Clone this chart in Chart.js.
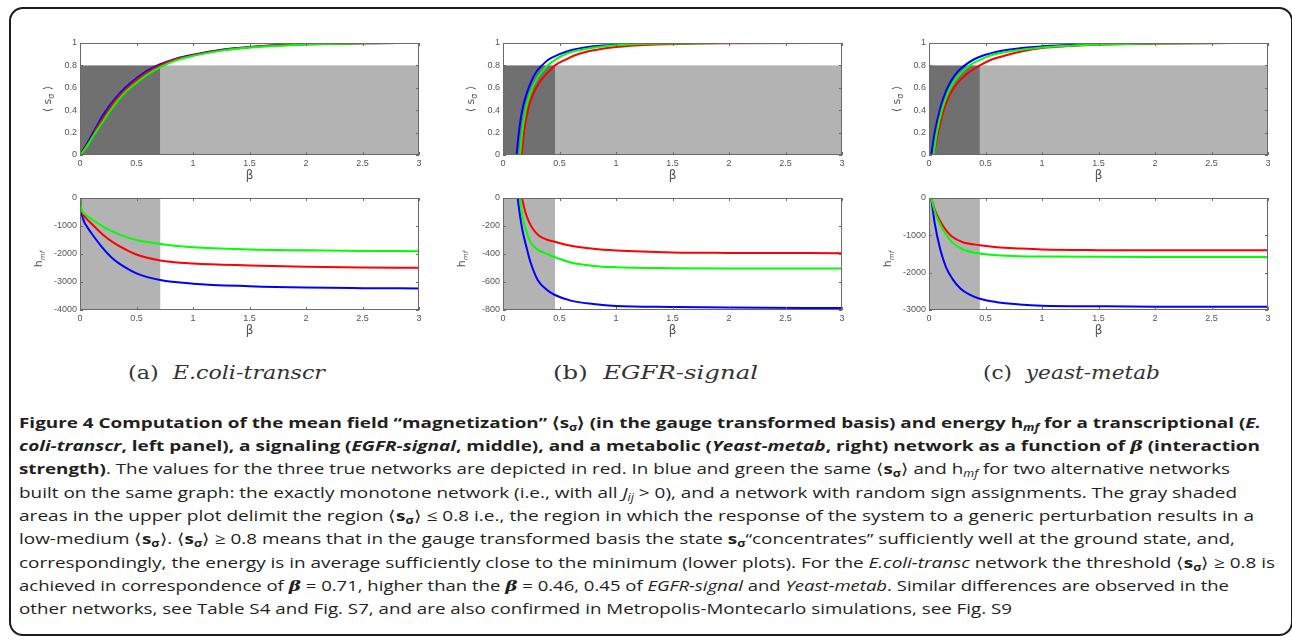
<!DOCTYPE html>
<html>
<head>
<meta charset="utf-8">
<script src="https://cdn.jsdelivr.net/npm/chart.js@4.4.1/dist/chart.umd.min.js"></script>
<style>
body { margin: 0; background: #fff; }
#page { position: relative; width: 1292px; height: 640px; overflow: hidden; background: #fff; font-family: "Open Sans", sans-serif; }
#frame { position: absolute; left: 9px; top: 7px; width: 1280px; height: 625px; border: 2px solid #1c1c1c; border-radius: 14px; }
canvas { position: absolute; }
.sub { position: absolute; top: 360px; font-family: "DejaVu Serif", serif; font-size: 19px; line-height: 24px; color: #333; white-space: nowrap; transform-origin: left center; }
.cap { position: absolute; left: 19px; font-size: 15px; line-height: 23px; color: #231f20; white-space: nowrap; transform-origin: left top; }
.cap sub { font-size: 10px; vertical-align: -3px; line-height: 0; }
.m { font-family: "DejaVu Serif", serif; font-style: italic; font-weight: bold; }
</style>
</head>
<body>
<div id="page">
  <div id="frame"></div>
  <canvas id="aTop"></canvas><canvas id="aBot"></canvas>
  <canvas id="bTop"></canvas><canvas id="bBot"></canvas>
  <canvas id="cTop"></canvas><canvas id="cBot"></canvas>
  <div class="sub" id="sub0"></div>
  <div class="sub" id="sub1"></div>
  <div class="sub" id="sub2"></div>
  <div id="caption"></div>
</div>
<script>
// axes
const betaTicks = [0, 0.5, 1, 1.5, 2, 2.5, 3];
const magTicks = [0, 0.2, 0.4, 0.6, 0.8, 1];
const energyTicksA = [0, -1000, -2000, -3000, -4000];
const energyTicksB = [0, -200, -400, -600, -800];
const energyTicksC = [0, -1000, -2000, -3000];
const shadeLevel = 0.8;
const thresholds = [0.71, 0.46, 0.45];
const panelTags = ["(a)", "(b)", "(c)"];
const panelNames = ["E.coli-transcr", "EGFR-signal", "yeast-metab"];

// (a) E.coli-transcr, magnetization
const aTopBeta = [0, 0.05, 0.1, 0.15, 0.2, 0.3, 0.4, 0.5, 0.6, 0.71, 0.85, 1, 1.25, 1.5, 2, 2.5, 3];
const aTopRed = [0, 0.07, 0.15, 0.24, 0.32, 0.47, 0.58, 0.67, 0.74, 0.80, 0.855, 0.89, 0.935, 0.962, 0.988, 0.997, 1];
const aTopBlue = [0, 0.08, 0.17, 0.26, 0.35, 0.49, 0.60, 0.685, 0.755, 0.81, 0.86, 0.895, 0.94, 0.965, 0.99, 0.998, 1];
const aTopGreen = [0, 0.06, 0.14, 0.22, 0.295, 0.44, 0.56, 0.645, 0.72, 0.785, 0.845, 0.885, 0.932, 0.96, 0.987, 0.997, 1];
// (a) energy
const aBotBeta = [0, 0.01, 0.03, 0.05, 0.1, 0.2, 0.3, 0.4, 0.5, 0.71, 1, 1.5, 2, 2.5, 3];
const aBotRed = [0, -380, -600, -710, -910, -1300, -1600, -1830, -2020, -2230, -2340, -2410, -2455, -2480, -2490];
const aBotBlue = [0, -450, -780, -950, -1250, -1780, -2200, -2480, -2690, -2930, -3060, -3150, -3200, -3220, -3230];
const aBotGreen = [0, -350, -530, -600, -750, -1010, -1220, -1380, -1500, -1640, -1760, -1840, -1870, -1890, -1900];

// (b) EGFR-signal, magnetization
const bTopRedBeta = [0.165, 0.185, 0.22, 0.27, 0.33, 0.4, 0.46, 0.55, 0.65, 0.8, 1, 1.3, 1.7, 2, 3];
const bTopRed = [0, 0.2, 0.4, 0.55, 0.66, 0.74, 0.8, 0.85, 0.895, 0.935, 0.965, 0.985, 0.995, 0.998, 1];
const bTopBlueBeta = [0.12, 0.14, 0.17, 0.21, 0.26, 0.3, 0.345, 0.4, 0.5, 0.6, 0.8, 1, 1.5, 2, 3];
const bTopBlue = [0, 0.2, 0.4, 0.55, 0.68, 0.75, 0.8, 0.85, 0.9, 0.935, 0.97, 0.985, 0.998, 1, 1];
const bTopGreenBeta = [0.15, 0.17, 0.2, 0.24, 0.3, 0.35, 0.395, 0.46, 0.55, 0.7, 0.9, 1.2, 1.5, 2, 3];
const bTopGreen = [0, 0.2, 0.4, 0.55, 0.68, 0.75, 0.8, 0.85, 0.9, 0.94, 0.97, 0.99, 0.996, 1, 1];
// (b) energy
const bBotRedBeta = [0.168, 0.185, 0.2, 0.23, 0.27, 0.32, 0.39, 0.46, 0.6, 0.8, 1, 1.5, 2, 3];
const bBotRed = [0, -60, -107, -170, -227, -270, -298, -313, -341, -363, -375, -389, -392, -394];
const bBotBlueBeta = [0.13, 0.147, 0.171, 0.206, 0.24, 0.307, 0.39, 0.46, 0.6, 0.8, 1, 1.5, 2, 3];
const bBotBlue = [0, -107, -227, -346, -450, -585, -657, -693, -733, -757, -771, -778, -783, -786];
const bBotGreenBeta = [0.15, 0.165, 0.18, 0.2, 0.24, 0.3, 0.39, 0.46, 0.6, 0.8, 1, 1.5, 2, 3];
const bBotGreen = [0, -90, -160, -220, -310, -365, -400, -423, -461, -485, -494, -501, -504, -504];

// (c) yeast-metab, magnetization
const cTopRedBeta = [0.04, 0.08, 0.13, 0.19, 0.25, 0.33, 0.45, 0.55, 0.7, 0.85, 1, 1.5, 2, 3];
const cTopRed = [0, 0.2, 0.4, 0.55, 0.64, 0.72, 0.8, 0.85, 0.895, 0.93, 0.955, 0.985, 0.995, 1];
const cTopBlueBeta = [0.02, 0.05, 0.1, 0.15, 0.2, 0.25, 0.316, 0.4, 0.5, 0.7, 1, 1.5, 2, 3];
const cTopBlue = [0, 0.2, 0.42, 0.57, 0.67, 0.74, 0.8, 0.855, 0.895, 0.94, 0.97, 0.99, 0.997, 1];
const cTopGreenBeta = [0.04, 0.07, 0.12, 0.17, 0.22, 0.28, 0.36, 0.45, 0.55, 0.75, 1, 1.5, 2, 3];
const cTopGreen = [0, 0.2, 0.42, 0.56, 0.655, 0.73, 0.8, 0.85, 0.89, 0.93, 0.96, 0.985, 0.995, 1];
// (c) energy
const cBotBeta = [0.02, 0.05, 0.1, 0.15, 0.2, 0.3, 0.45, 0.6, 0.8, 1, 1.5, 2, 3];
const cBotRed = [0, -312, -623, -863, -1024, -1184, -1264, -1317, -1353, -1380, -1397, -1400, -1400];
const cBotGreen = [0, -356, -712, -979, -1175, -1380, -1486, -1531, -1558, -1566, -1575, -1578, -1578];
const cBotBlueBeta = [0.02, 0.05, 0.1, 0.15, 0.21, 0.28, 0.36, 0.45, 0.6, 0.8, 1, 1.5, 2, 3];
const cBotBlue = [0, -668, -1380, -1850, -2180, -2430, -2590, -2700, -2790, -2850, -2884, -2901, -2910, -2910];

const captionLines = [
  '<b>Figure 4 Computation of the mean field “magnetization” ⟨s<sub>σ</sub>⟩ (in the gauge transformed basis) and energy h<sub><i>mf</i></sub> for a transcriptional (<i>E.</i></b>',
  '<b><i>coli-transcr</i>, left panel), a signaling (<i>EGFR-signal</i>, middle), and a metabolic (<i>Yeast-metab</i>, right) network as a function of <span class="m">β</span> (interaction</b>',
  '<b>strength)</b>. The values for the three true networks are depicted in red. In blue and green the same ⟨<b>s</b><sub><b>σ</b></sub>⟩ and h<sub><i>mf</i></sub> for two alternative networks',
  'built on the same graph: the exactly monotone network (i.e., with all <i>J<sub>ij</sub></i> &gt; 0), and a network with random sign assignments. The gray shaded',
  'areas in the upper plot delimit the region ⟨<b>s</b><sub><b>σ</b></sub>⟩ ≤ 0.8 i.e., the region in which the response of the system to a generic perturbation results in a',
  'low-medium ⟨<b>s</b><sub><b>σ</b></sub>⟩. ⟨<b>s</b><sub><b>σ</b></sub>⟩ ≥ 0.8 means that in the gauge transformed basis the state <b>s</b><sub><b>σ</b></sub>“concentrates” sufficiently well at the ground state, and,',
  'correspondingly, the energy is in average sufficiently close to the minimum (lower plots). For the <i>E.coli-transc</i> network the threshold ⟨<b>s</b><sub><b>σ</b></sub>⟩ ≥ 0.8 is',
  'achieved in correspondence of <span class="m">β</span> = 0.71, higher than the <span class="m">β</span> = 0.46, 0.45 of <i>EGFR-signal</i> and <i>Yeast-metab</i>. Similar differences are observed in the',
  'other networks, see Table S4 and Fig. S7, and are also confirmed in Metropolis-Montecarlo simulations, see Fig. S9'
];
const captionRight = [1261, 1260, 1230, 1237, 1254, 1235, 1275, 1229, 1012];

// rotated y-axis titles, one per canvas
const magLabel = [
  { t: '⟨ s', font: '11px "DejaVu Sans"', shift: 0 },
  { t: 'σ', font: '8px "DejaVu Sans"', shift: 4 },
  { t: ' ⟩', font: '11px "DejaVu Sans"', shift: 0 }
];
const energyLabel = [
  { t: 'h', font: '11px "DejaVu Sans"', shift: 0 },
  { t: 'mf', font: 'italic 7px "DejaVu Sans"', shift: 4 }
];
const yTitles = {};

function pts(xs, ys) {
  return xs.map((x, i) => ({ x: x, y: ys[i] }));
}

function line(data, color) {
  return { data: data, borderColor: color, borderWidth: 2, pointRadius: 0, fill: false, cubicInterpolationMode: 'monotone' };
}

const shadePlugin = {
  id: 'shade',
  beforeDatasetsDraw(chart, args, opts) {
    const { ctx, chartArea: a, scales: { x, y } } = chart;
    const xt = x.getPixelForValue(opts.thr);
    ctx.save();
    if (opts.upper) {
      const yl = y.getPixelForValue(shadeLevel);
      ctx.fillStyle = '#b3b3b3';
      ctx.fillRect(xt, yl, a.right - xt, a.bottom - yl);
      ctx.fillStyle = '#707070';
      ctx.fillRect(a.left, yl, xt - a.left, a.bottom - yl);
    } else {
      ctx.fillStyle = '#b3b3b3';
      ctx.fillRect(a.left, a.top, xt - a.left, a.bottom - a.top);
    }
    ctx.restore();
  }
};

const framePlugin = {
  id: 'frame',
  afterDatasetsDraw(chart) {
    const { ctx, chartArea: a, scales: { x, y } } = chart;
    ctx.save();
    ctx.strokeStyle = '#6a6a6a';
    ctx.lineWidth = 1;
    ctx.strokeRect(a.left + 0.5, a.top + 0.5, a.right - a.left - 1, a.bottom - a.top - 1);
    ctx.beginPath();
    x.ticks.forEach(t => {
      const px = Math.round(x.getPixelForValue(t.value)) + 0.5;
      ctx.moveTo(px, a.bottom); ctx.lineTo(px, a.bottom - 3);
      ctx.moveTo(px, a.top); ctx.lineTo(px, a.top + 3);
    });
    y.ticks.forEach(t => {
      const py = Math.round(y.getPixelForValue(t.value)) + 0.5;
      ctx.moveTo(a.left, py); ctx.lineTo(a.left + 3, py);
      ctx.moveTo(a.right, py); ctx.lineTo(a.right - 3, py);
    });
    ctx.stroke();
    ctx.restore();
  }
};

const labelPlugin = {
  id: 'labels',
  afterDraw(chart) {
    const { ctx, chartArea: a } = chart;
    const info = yTitles[chart.canvas.id];
    ctx.save();
    ctx.fillStyle = '#555';
    ctx.font = '12px "DejaVu Sans"';
    ctx.textAlign = 'center';
    ctx.textBaseline = 'middle';
    ctx.fillText('β', (a.left + a.right) / 2, a.bottom + 21);

    ctx.translate(a.left - info.dx, (a.top + a.bottom) / 2 + info.dy);
    ctx.rotate(-Math.PI / 2);
    ctx.textAlign = 'left';
    let total = 0;
    info.parts.forEach(p => { ctx.font = p.font; total += ctx.measureText(p.t).width; });
    let cx = -total / 2;
    info.parts.forEach(p => {
      ctx.font = p.font;
      ctx.fillText(p.t, cx, p.shift);
      cx += ctx.measureText(p.t).width;
    });
    ctx.restore();
  }
};

function makeChart(id, left, top, datasets, yMin, yMax, yTicks, thr, upper) {
  const cv = document.getElementById(id);
  cv.width = 403;
  cv.height = 156;
  cv.style.left = (left - 50) + 'px';
  cv.style.top = (top - 10) + 'px';
  yTitles[id] = upper ? { parts: magLabel, dx: 32, dy: 0 } : { parts: energyLabel, dx: 41, dy: 5 };
  return new Chart(cv, {
    type: 'line',
    data: { datasets: datasets },
    options: {
      responsive: false,
      animation: false,
      devicePixelRatio: 1,
      layout: { padding: { top: 10, right: 14, left: 0, bottom: 0 } },
      plugins: {
        legend: { display: false },
        tooltip: { enabled: false },
        shade: { thr: thr, upper: upper }
      },
      scales: {
        x: {
          type: 'linear', min: 0, max: 3,
          grid: { display: false, drawTicks: false },
          border: { display: false },
          afterBuildTicks: s => { s.ticks = betaTicks.map(v => ({ value: v })); },
          ticks: { font: { size: 9, family: 'Liberation Sans' }, color: '#555', padding: 3, maxRotation: 0, autoSkip: false, callback: v => String(v) },
          afterFit: s => { s.height = 34; }
        },
        y: {
          type: 'linear', min: yMin, max: yMax,
          grid: { display: false, drawTicks: false },
          border: { display: false },
          afterBuildTicks: s => { s.ticks = yTicks.map(v => ({ value: v })); },
          ticks: { font: { size: 9, family: 'Liberation Sans' }, color: '#555', padding: 3, autoSkip: false, callback: v => String(v) },
          afterFit: s => { s.width = 50; }
        }
      }
    },
    plugins: [shadePlugin, framePlugin, labelPlugin]
  });
}

const plotLeft = [80, 503, 929];
const topRow = 43;
const bottomRow = 198;

makeChart('aTop', plotLeft[0], topRow, [
  line(pts(aTopBeta, aTopGreen), '#00ff00'),
  line(pts(aTopBeta, aTopRed), '#ff0000'),
  line(pts(aTopBeta, aTopBlue), '#0000ff')
], 0, 1, magTicks, thresholds[0], true);

makeChart('aBot', plotLeft[0], bottomRow, [
  line(pts(aBotBeta, aBotGreen), '#00ff00'),
  line(pts(aBotBeta, aBotRed), '#ff0000'),
  line(pts(aBotBeta, aBotBlue), '#0000ff')
], -4000, 0, energyTicksA, thresholds[0], false);

makeChart('bTop', plotLeft[1], topRow, [
  line(pts(bTopGreenBeta, bTopGreen), '#00ff00'),
  line(pts(bTopRedBeta, bTopRed), '#ff0000'),
  line(pts(bTopBlueBeta, bTopBlue), '#0000ff')
], 0, 1, magTicks, thresholds[1], true);

makeChart('bBot', plotLeft[1], bottomRow, [
  line(pts(bBotGreenBeta, bBotGreen), '#00ff00'),
  line(pts(bBotRedBeta, bBotRed), '#ff0000'),
  line(pts(bBotBlueBeta, bBotBlue), '#0000ff')
], -800, 0, energyTicksB, thresholds[1], false);

makeChart('cTop', plotLeft[2], topRow, [
  line(pts(cTopGreenBeta, cTopGreen), '#00ff00'),
  line(pts(cTopRedBeta, cTopRed), '#ff0000'),
  line(pts(cTopBlueBeta, cTopBlue), '#0000ff')
], 0, 1, magTicks, thresholds[2], true);

makeChart('cBot', plotLeft[2], bottomRow, [
  line(pts(cBotBeta, cBotGreen), '#00ff00'),
  line(pts(cBotBeta, cBotRed), '#ff0000'),
  line(pts(cBotBlueBeta, cBotBlue), '#0000ff')
], -3000, 0, energyTicksC, thresholds[2], false);

// fit a text element to a target width
function fit(el, w) {
  el.style.transform = '';
  const actual = el.getBoundingClientRect().width;
  if (actual > 0) el.style.transform = 'scaleX(' + (w / actual) + ')';
}

const subLeft = [128, 553, 983];
const subWidth = [197, 205, 177];
panelTags.forEach((tag, i) => {
  const el = document.getElementById('sub' + i);
  el.innerHTML = tag + '&nbsp;&nbsp;<i>' + panelNames[i] + '</i>';
  el.style.left = subLeft[i] + 'px';
});

const capBox = document.getElementById('caption');
captionLines.forEach((txt, i) => {
  const d = document.createElement('div');
  d.className = 'cap';
  d.style.top = (410.5 + i * 23.35) + 'px';
  d.innerHTML = txt;
  capBox.appendChild(d);
});

function fitAll() {
  panelTags.forEach((tag, i) => fit(document.getElementById('sub' + i), subWidth[i]));
  Array.from(document.getElementsByClassName('cap')).forEach((d, i) => fit(d, captionRight[i] - 19));
}
fitAll();
if (document.fonts && document.fonts.ready) {
  document.fonts.ready.then(fitAll);
}
</script>
</body>
</html>
